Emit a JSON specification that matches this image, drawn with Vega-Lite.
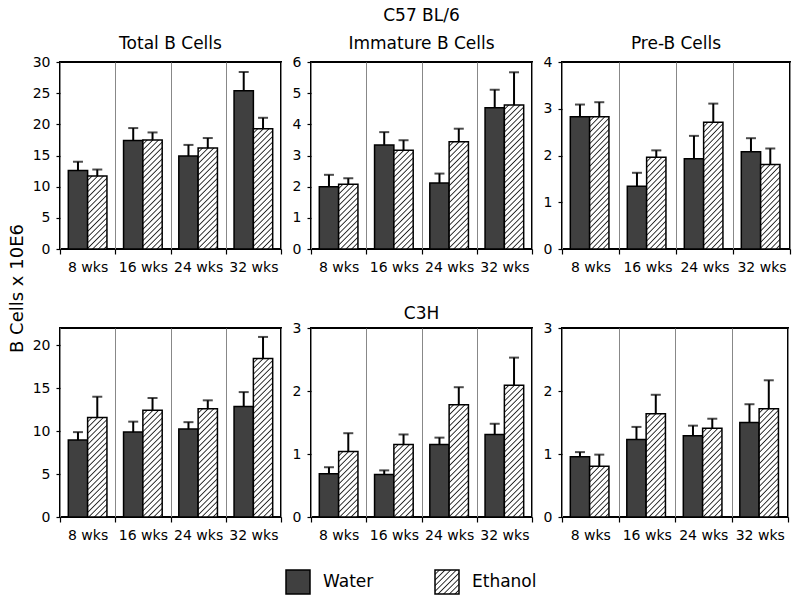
{
  "$schema": "https://vega.github.io/schema/vega-lite/v6.json",
  "autosize": {"type": "pad"},
  "padding": {"left": 7, "top": 6, "right": 5, "bottom": 5},
  "background": "white",
  "params": [
    {"name": "hatch", "expr": "[{offset:0,color:'#fff'},{offset:0.0172,color:'#fff'},{offset:0.0244,color:'#222'},{offset:0.0313,color:'#fff'},{offset:0.0484,color:'#fff'},{offset:0.0556,color:'#222'},{offset:0.0625,color:'#fff'},{offset:0.0797,color:'#fff'},{offset:0.0869,color:'#222'},{offset:0.0938,color:'#fff'},{offset:0.1109,color:'#fff'},{offset:0.1181,color:'#222'},{offset:0.125,color:'#fff'},{offset:0.1422,color:'#fff'},{offset:0.1494,color:'#222'},{offset:0.1563,color:'#fff'},{offset:0.1734,color:'#fff'},{offset:0.1806,color:'#222'},{offset:0.1875,color:'#fff'},{offset:0.2047,color:'#fff'},{offset:0.2119,color:'#222'},{offset:0.2188,color:'#fff'},{offset:0.2359,color:'#fff'},{offset:0.2431,color:'#222'},{offset:0.25,color:'#fff'},{offset:0.2672,color:'#fff'},{offset:0.2744,color:'#222'},{offset:0.2813,color:'#fff'},{offset:0.2984,color:'#fff'},{offset:0.3056,color:'#222'},{offset:0.3125,color:'#fff'},{offset:0.3297,color:'#fff'},{offset:0.3369,color:'#222'},{offset:0.3438,color:'#fff'},{offset:0.3609,color:'#fff'},{offset:0.3681,color:'#222'},{offset:0.375,color:'#fff'},{offset:0.3922,color:'#fff'},{offset:0.3994,color:'#222'},{offset:0.4063,color:'#fff'},{offset:0.4234,color:'#fff'},{offset:0.4306,color:'#222'},{offset:0.4375,color:'#fff'},{offset:0.4547,color:'#fff'},{offset:0.4619,color:'#222'},{offset:0.4688,color:'#fff'},{offset:0.4859,color:'#fff'},{offset:0.4931,color:'#222'},{offset:0.5,color:'#fff'},{offset:0.5172,color:'#fff'},{offset:0.5244,color:'#222'},{offset:0.5313,color:'#fff'},{offset:0.5484,color:'#fff'},{offset:0.5556,color:'#222'},{offset:0.5625,color:'#fff'},{offset:0.5797,color:'#fff'},{offset:0.5869,color:'#222'},{offset:0.5938,color:'#fff'},{offset:0.6109,color:'#fff'},{offset:0.6181,color:'#222'},{offset:0.625,color:'#fff'},{offset:0.6422,color:'#fff'},{offset:0.6494,color:'#222'},{offset:0.6563,color:'#fff'},{offset:0.6734,color:'#fff'},{offset:0.6806,color:'#222'},{offset:0.6875,color:'#fff'},{offset:0.7047,color:'#fff'},{offset:0.7119,color:'#222'},{offset:0.7188,color:'#fff'},{offset:0.7359,color:'#fff'},{offset:0.7431,color:'#222'},{offset:0.75,color:'#fff'},{offset:0.7672,color:'#fff'},{offset:0.7744,color:'#222'},{offset:0.7813,color:'#fff'},{offset:0.7984,color:'#fff'},{offset:0.8056,color:'#222'},{offset:0.8125,color:'#fff'},{offset:0.8297,color:'#fff'},{offset:0.8369,color:'#222'},{offset:0.8438,color:'#fff'},{offset:0.8609,color:'#fff'},{offset:0.8681,color:'#222'},{offset:0.875,color:'#fff'},{offset:0.8922,color:'#fff'},{offset:0.8994,color:'#222'},{offset:0.9063,color:'#fff'},{offset:0.9234,color:'#fff'},{offset:0.9306,color:'#222'},{offset:0.9375,color:'#fff'},{offset:0.9547,color:'#fff'},{offset:0.9619,color:'#222'},{offset:0.9688,color:'#fff'},{offset:0.9859,color:'#fff'},{offset:0.9931,color:'#222'},{offset:1,color:'#fff'}]"}
  ],
  "data": {
    "values": [
      {"panel": "total", "week": "8 wks", "treatment": "Water", "mean": 12.6, "upper": 14.0},
      {"panel": "total", "week": "8 wks", "treatment": "Ethanol", "mean": 11.7, "upper": 12.75},
      {"panel": "total", "week": "16 wks", "treatment": "Water", "mean": 17.4, "upper": 19.4},
      {"panel": "total", "week": "16 wks", "treatment": "Ethanol", "mean": 17.5, "upper": 18.7},
      {"panel": "total", "week": "24 wks", "treatment": "Water", "mean": 14.9, "upper": 16.7},
      {"panel": "total", "week": "24 wks", "treatment": "Ethanol", "mean": 16.2, "upper": 17.8},
      {"panel": "total", "week": "32 wks", "treatment": "Water", "mean": 25.4, "upper": 28.4},
      {"panel": "total", "week": "32 wks", "treatment": "Ethanol", "mean": 19.3, "upper": 21.05},
      {"panel": "immature", "week": "8 wks", "treatment": "Water", "mean": 2.0, "upper": 2.38},
      {"panel": "immature", "week": "8 wks", "treatment": "Ethanol", "mean": 2.08, "upper": 2.27},
      {"panel": "immature", "week": "16 wks", "treatment": "Water", "mean": 3.34, "upper": 3.75},
      {"panel": "immature", "week": "16 wks", "treatment": "Ethanol", "mean": 3.17, "upper": 3.49},
      {"panel": "immature", "week": "24 wks", "treatment": "Water", "mean": 2.12, "upper": 2.42},
      {"panel": "immature", "week": "24 wks", "treatment": "Ethanol", "mean": 3.44, "upper": 3.86},
      {"panel": "immature", "week": "32 wks", "treatment": "Water", "mean": 4.53, "upper": 5.11},
      {"panel": "immature", "week": "32 wks", "treatment": "Ethanol", "mean": 4.62, "upper": 5.67},
      {"panel": "preb", "week": "8 wks", "treatment": "Water", "mean": 2.83, "upper": 3.09},
      {"panel": "preb", "week": "8 wks", "treatment": "Ethanol", "mean": 2.83, "upper": 3.14},
      {"panel": "preb", "week": "16 wks", "treatment": "Water", "mean": 1.34, "upper": 1.63},
      {"panel": "preb", "week": "16 wks", "treatment": "Ethanol", "mean": 1.96, "upper": 2.11},
      {"panel": "preb", "week": "24 wks", "treatment": "Water", "mean": 1.93, "upper": 2.42},
      {"panel": "preb", "week": "24 wks", "treatment": "Ethanol", "mean": 2.71, "upper": 3.11},
      {"panel": "preb", "week": "32 wks", "treatment": "Water", "mean": 2.08, "upper": 2.37},
      {"panel": "preb", "week": "32 wks", "treatment": "Ethanol", "mean": 1.81, "upper": 2.15},
      {"panel": "c3h_total", "week": "8 wks", "treatment": "Water", "mean": 8.96, "upper": 9.88},
      {"panel": "c3h_total", "week": "8 wks", "treatment": "Ethanol", "mean": 11.58, "upper": 14.0},
      {"panel": "c3h_total", "week": "16 wks", "treatment": "Water", "mean": 9.88, "upper": 11.1},
      {"panel": "c3h_total", "week": "16 wks", "treatment": "Ethanol", "mean": 12.42, "upper": 13.85},
      {"panel": "c3h_total", "week": "24 wks", "treatment": "Water", "mean": 10.23, "upper": 11.04},
      {"panel": "c3h_total", "week": "24 wks", "treatment": "Ethanol", "mean": 12.6, "upper": 13.58},
      {"panel": "c3h_total", "week": "32 wks", "treatment": "Water", "mean": 12.85, "upper": 14.54},
      {"panel": "c3h_total", "week": "32 wks", "treatment": "Ethanol", "mean": 18.46, "upper": 20.96},
      {"panel": "c3h_immature", "week": "8 wks", "treatment": "Water", "mean": 0.685, "upper": 0.79},
      {"panel": "c3h_immature", "week": "8 wks", "treatment": "Ethanol", "mean": 1.04, "upper": 1.33},
      {"panel": "c3h_immature", "week": "16 wks", "treatment": "Water", "mean": 0.675, "upper": 0.74},
      {"panel": "c3h_immature", "week": "16 wks", "treatment": "Ethanol", "mean": 1.15, "upper": 1.31},
      {"panel": "c3h_immature", "week": "24 wks", "treatment": "Water", "mean": 1.15, "upper": 1.26},
      {"panel": "c3h_immature", "week": "24 wks", "treatment": "Ethanol", "mean": 1.78, "upper": 2.06},
      {"panel": "c3h_immature", "week": "32 wks", "treatment": "Water", "mean": 1.31, "upper": 1.48},
      {"panel": "c3h_immature", "week": "32 wks", "treatment": "Ethanol", "mean": 2.09, "upper": 2.53},
      {"panel": "c3h_preb", "week": "8 wks", "treatment": "Water", "mean": 0.957, "upper": 1.03},
      {"panel": "c3h_preb", "week": "8 wks", "treatment": "Ethanol", "mean": 0.805, "upper": 0.99},
      {"panel": "c3h_preb", "week": "16 wks", "treatment": "Water", "mean": 1.23, "upper": 1.43},
      {"panel": "c3h_preb", "week": "16 wks", "treatment": "Ethanol", "mean": 1.64, "upper": 1.94},
      {"panel": "c3h_preb", "week": "24 wks", "treatment": "Water", "mean": 1.29, "upper": 1.45},
      {"panel": "c3h_preb", "week": "24 wks", "treatment": "Ethanol", "mean": 1.41, "upper": 1.56},
      {"panel": "c3h_preb", "week": "32 wks", "treatment": "Water", "mean": 1.5, "upper": 1.79},
      {"panel": "c3h_preb", "week": "32 wks", "treatment": "Ethanol", "mean": 1.72, "upper": 2.17}
    ]
  },
  "columns": 3,
  "bounds": "flush",
  "align": "each",
  "spacing": {"row": 79, "column": 30},
  "concat": [
    {
      "width": 221, "height": 187,
      "title": {"text": "Total B Cells", "offset": 2},
      "transform": [{"filter": "datum.panel === 'total'"}],
      "encoding": {
        "x": {"field": "week", "type": "ordinal", "sort": ["8 wks", "16 wks", "24 wks", "32 wks"], "title": null, "scale": {"paddingInner": 0, "paddingOuter": 0}, "axis": {"tickBand": "extent", "grid": true, "gridColor": "#888888", "gridWidth": 1, "labelAngle": 0, "tickSize": 5, "labelPadding": 6.5}},
        "xOffset": {"field": "treatment", "sort": ["Water", "Ethanol"], "scale": {"paddingInner": 0, "paddingOuter": 0.43}}
      },
      "layer": [
        {
          "mark": {"type": "bar", "strokeWidth": 1.5, "fill": {"expr": "(datum.treatment || datum.value) === 'Water' ? '#404040' : {gradient:'linear',x1:0,y1:0,x2:(datum.mean ? 181*19.3/(372.5+pow(datum.mean*6.23,2)) : 3.77),y2:(datum.mean ? 181*datum.mean*6.23/(372.5+pow(datum.mean*6.23,2)) : 3.77),stops:hatch}"}},
          "encoding": {
            "y": {"field": "mean", "type": "quantitative", "title": "B Cells x 10E6", "scale": {"domain": [0, 30], "nice": false},
              "axis": {"grid": false, "values": [0, 5, 10, 15, 20, 25, 30], "format": "d", "tickSize": 4, "labelPadding": 6, "titleY": 226, "titlePadding": 6}},
            "stroke": {"field": "treatment", "type": "nominal", "scale": {"domain": ["Water", "Ethanol"], "range": ["black", "black"]},
              "legend": {"orient": "none", "legendX": 225, "legendY": 507, "direction": "horizontal", "title": null, "symbolType": "square", "symbolSize": 576, "symbolStrokeWidth": 1.5, "labelFontSize": 17, "labelColor": "black", "labelOffset": 12, "columnPadding": 58, "padding": 0}}
          }
        },
        {"mark": {"type": "rule", "color": "black", "strokeWidth": 2},
          "encoding": {"y": {"field": "mean", "type": "quantitative", "title": "B Cells x 10E6", "scale": {"domain": [0, 30], "nice": false},
              "axis": {"grid": false, "values": [0, 5, 10, 15, 20, 25, 30], "format": "d", "tickSize": 4, "labelPadding": 6, "titleY": 226, "titlePadding": 6}}, "y2": {"field": "upper"}}},
        {"mark": {"type": "tick", "color": "black", "size": 10, "thickness": 2},
          "encoding": {"y": {"field": "upper", "type": "quantitative", "title": "B Cells x 10E6", "scale": {"domain": [0, 30], "nice": false},
              "axis": {"grid": false, "values": [0, 5, 10, 15, 20, 25, 30], "format": "d", "tickSize": 4, "labelPadding": 6, "titleY": 226, "titlePadding": 6}}}}
      ]
    },
    {
      "width": 221, "height": 187,
      "title": {"text": ["C57 BL/6", "Immature B Cells"], "lineHeight": 28, "offset": 2},
      "transform": [{"filter": "datum.panel === 'immature'"}],
      "encoding": {
        "x": {"field": "week", "type": "ordinal", "sort": ["8 wks", "16 wks", "24 wks", "32 wks"], "title": null, "scale": {"paddingInner": 0, "paddingOuter": 0}, "axis": {"tickBand": "extent", "grid": true, "gridColor": "#888888", "gridWidth": 1, "labelAngle": 0, "tickSize": 5, "labelPadding": 6.5}},
        "xOffset": {"field": "treatment", "sort": ["Water", "Ethanol"], "scale": {"paddingInner": 0, "paddingOuter": 0.43}}
      },
      "layer": [
        {
          "mark": {"type": "bar", "stroke": "black", "strokeWidth": 1.5, "fill": {"expr": "datum.treatment === 'Water' ? '#404040' : {gradient:'linear',x1:0,y1:0,x2:181*19.3/(372.5+pow(datum.mean*31.17,2)),y2:181*datum.mean*31.17/(372.5+pow(datum.mean*31.17,2)),stops:hatch}"}},
          "encoding": {
            "y": {"field": "mean", "type": "quantitative", "title": null, "scale": {"domain": [0, 6], "nice": false},
              "axis": {"grid": false, "values": [0, 1, 2, 3, 4, 5, 6], "format": "d", "tickSize": 4, "labelPadding": 6}}
          }
        },
        {"mark": {"type": "rule", "color": "black", "strokeWidth": 2},
          "encoding": {"y": {"field": "mean", "type": "quantitative", "title": null, "scale": {"domain": [0, 6], "nice": false},
              "axis": {"grid": false, "values": [0, 1, 2, 3, 4, 5, 6], "format": "d", "tickSize": 4, "labelPadding": 6}}, "y2": {"field": "upper"}}},
        {"mark": {"type": "tick", "color": "black", "size": 10, "thickness": 2},
          "encoding": {"y": {"field": "upper", "type": "quantitative", "title": null, "scale": {"domain": [0, 6], "nice": false},
              "axis": {"grid": false, "values": [0, 1, 2, 3, 4, 5, 6], "format": "d", "tickSize": 4, "labelPadding": 6}}}}
      ]
    },
    {
      "width": 228, "height": 187,
      "title": {"text": "Pre-B Cells", "offset": 2},
      "transform": [{"filter": "datum.panel === 'preb'"}],
      "encoding": {
        "x": {"field": "week", "type": "ordinal", "sort": ["8 wks", "16 wks", "24 wks", "32 wks"], "title": null, "scale": {"paddingInner": 0, "paddingOuter": 0}, "axis": {"tickBand": "extent", "grid": true, "gridColor": "#888888", "gridWidth": 1, "labelAngle": 0, "tickSize": 5, "labelPadding": 6.5}},
        "xOffset": {"field": "treatment", "sort": ["Water", "Ethanol"], "scale": {"paddingInner": 0, "paddingOuter": 0.43}}
      },
      "layer": [
        {
          "mark": {"type": "bar", "stroke": "black", "strokeWidth": 1.5, "fill": {"expr": "datum.treatment === 'Water' ? '#404040' : {gradient:'linear',x1:0,y1:0,x2:181*19.9/(396+pow(datum.mean*46.75,2)),y2:181*datum.mean*46.75/(396+pow(datum.mean*46.75,2)),stops:hatch}"}},
          "encoding": {
            "y": {"field": "mean", "type": "quantitative", "title": null, "scale": {"domain": [0, 4], "nice": false},
              "axis": {"grid": false, "values": [0, 1, 2, 3, 4], "format": "d", "tickSize": 4, "labelPadding": 6}}
          }
        },
        {"mark": {"type": "rule", "color": "black", "strokeWidth": 2},
          "encoding": {"y": {"field": "mean", "type": "quantitative", "title": null, "scale": {"domain": [0, 4], "nice": false},
              "axis": {"grid": false, "values": [0, 1, 2, 3, 4], "format": "d", "tickSize": 4, "labelPadding": 6}}, "y2": {"field": "upper"}}},
        {"mark": {"type": "tick", "color": "black", "size": 10, "thickness": 2},
          "encoding": {"y": {"field": "upper", "type": "quantitative", "title": null, "scale": {"domain": [0, 4], "nice": false},
              "axis": {"grid": false, "values": [0, 1, 2, 3, 4], "format": "d", "tickSize": 4, "labelPadding": 6}}}}
      ]
    },
    {
      "width": 221, "height": 189,
      "transform": [{"filter": "datum.panel === 'c3h_total'"}],
      "encoding": {
        "x": {"field": "week", "type": "ordinal", "sort": ["8 wks", "16 wks", "24 wks", "32 wks"], "title": null, "scale": {"paddingInner": 0, "paddingOuter": 0}, "axis": {"tickBand": "extent", "grid": true, "gridColor": "#888888", "gridWidth": 1, "labelAngle": 0, "tickSize": 5, "labelPadding": 6.5}},
        "xOffset": {"field": "treatment", "sort": ["Water", "Ethanol"], "scale": {"paddingInner": 0, "paddingOuter": 0.43}}
      },
      "layer": [
        {
          "mark": {"type": "bar", "stroke": "black", "strokeWidth": 1.5, "fill": {"expr": "datum.treatment === 'Water' ? '#404040' : {gradient:'linear',x1:0,y1:0,x2:181*19.3/(372.5+pow(datum.mean*8.59,2)),y2:181*datum.mean*8.59/(372.5+pow(datum.mean*8.59,2)),stops:hatch}"}},
          "encoding": {
            "y": {"field": "mean", "type": "quantitative", "title": null, "scale": {"domain": [0, 22], "nice": false},
              "axis": {"grid": false, "values": [0, 5, 10, 15, 20], "format": "d", "tickSize": 4, "labelPadding": 6}}
          }
        },
        {"mark": {"type": "rule", "color": "black", "strokeWidth": 2},
          "encoding": {"y": {"field": "mean", "type": "quantitative", "title": null, "scale": {"domain": [0, 22], "nice": false},
              "axis": {"grid": false, "values": [0, 5, 10, 15, 20], "format": "d", "tickSize": 4, "labelPadding": 6}}, "y2": {"field": "upper"}}},
        {"mark": {"type": "tick", "color": "black", "size": 10, "thickness": 2},
          "encoding": {"y": {"field": "upper", "type": "quantitative", "title": null, "scale": {"domain": [0, 22], "nice": false},
              "axis": {"grid": false, "values": [0, 5, 10, 15, 20], "format": "d", "tickSize": 4, "labelPadding": 6}}}}
      ]
    },
    {
      "width": 221, "height": 189,
      "title": {"text": "C3H", "offset": -2},
      "transform": [{"filter": "datum.panel === 'c3h_immature'"}],
      "encoding": {
        "x": {"field": "week", "type": "ordinal", "sort": ["8 wks", "16 wks", "24 wks", "32 wks"], "title": null, "scale": {"paddingInner": 0, "paddingOuter": 0}, "axis": {"tickBand": "extent", "grid": true, "gridColor": "#888888", "gridWidth": 1, "labelAngle": 0, "tickSize": 5, "labelPadding": 6.5}},
        "xOffset": {"field": "treatment", "sort": ["Water", "Ethanol"], "scale": {"paddingInner": 0, "paddingOuter": 0.43}}
      },
      "layer": [
        {
          "mark": {"type": "bar", "stroke": "black", "strokeWidth": 1.5, "fill": {"expr": "datum.treatment === 'Water' ? '#404040' : {gradient:'linear',x1:0,y1:0,x2:181*19.3/(372.5+pow(datum.mean*63,2)),y2:181*datum.mean*63/(372.5+pow(datum.mean*63,2)),stops:hatch}"}},
          "encoding": {
            "y": {"field": "mean", "type": "quantitative", "title": null, "scale": {"domain": [0, 3], "nice": false},
              "axis": {"grid": false, "values": [0, 1, 2, 3], "format": "d", "tickSize": 4, "labelPadding": 6}}
          }
        },
        {"mark": {"type": "rule", "color": "black", "strokeWidth": 2},
          "encoding": {"y": {"field": "mean", "type": "quantitative", "title": null, "scale": {"domain": [0, 3], "nice": false},
              "axis": {"grid": false, "values": [0, 1, 2, 3], "format": "d", "tickSize": 4, "labelPadding": 6}}, "y2": {"field": "upper"}}},
        {"mark": {"type": "tick", "color": "black", "size": 10, "thickness": 2},
          "encoding": {"y": {"field": "upper", "type": "quantitative", "title": null, "scale": {"domain": [0, 3], "nice": false},
              "axis": {"grid": false, "values": [0, 1, 2, 3], "format": "d", "tickSize": 4, "labelPadding": 6}}}}
      ]
    },
    {
      "width": 226, "height": 189,
      "transform": [{"filter": "datum.panel === 'c3h_preb'"}],
      "encoding": {
        "x": {"field": "week", "type": "ordinal", "sort": ["8 wks", "16 wks", "24 wks", "32 wks"], "title": null, "scale": {"paddingInner": 0, "paddingOuter": 0}, "axis": {"tickBand": "extent", "grid": true, "gridColor": "#888888", "gridWidth": 1, "labelAngle": 0, "tickSize": 5, "labelPadding": 6.5}},
        "xOffset": {"field": "treatment", "sort": ["Water", "Ethanol"], "scale": {"paddingInner": 0, "paddingOuter": 0.43}}
      },
      "layer": [
        {
          "mark": {"type": "bar", "stroke": "black", "strokeWidth": 1.5, "fill": {"expr": "datum.treatment === 'Water' ? '#404040' : {gradient:'linear',x1:0,y1:0,x2:181*19.7/(388+pow(datum.mean*63,2)),y2:181*datum.mean*63/(388+pow(datum.mean*63,2)),stops:hatch}"}},
          "encoding": {
            "y": {"field": "mean", "type": "quantitative", "title": null, "scale": {"domain": [0, 3], "nice": false},
              "axis": {"grid": false, "values": [0, 1, 2, 3], "format": "d", "tickSize": 4, "labelPadding": 6}}
          }
        },
        {"mark": {"type": "rule", "color": "black", "strokeWidth": 2},
          "encoding": {"y": {"field": "mean", "type": "quantitative", "title": null, "scale": {"domain": [0, 3], "nice": false},
              "axis": {"grid": false, "values": [0, 1, 2, 3], "format": "d", "tickSize": 4, "labelPadding": 6}}, "y2": {"field": "upper"}}},
        {"mark": {"type": "tick", "color": "black", "size": 10, "thickness": 2},
          "encoding": {"y": {"field": "upper", "type": "quantitative", "title": null, "scale": {"domain": [0, 3], "nice": false},
              "axis": {"grid": false, "values": [0, 1, 2, 3], "format": "d", "tickSize": 4, "labelPadding": 6}}}}
      ]
    }
  ],
  "config": {
    "font": "DejaVu Sans",
    "view": {"stroke": "black", "strokeWidth": 2},
    "axis": {"labelFont": "DejaVu Sans", "labelFontSize": 14, "labelColor": "black", "tickColor": "black", "tickWidth": 1.2, "domain": false, "titleFont": "DejaVu Sans", "titleFontSize": 18, "titleFontWeight": "normal", "titleColor": "black"},
    "title": {"font": "DejaVu Sans", "fontSize": 17, "fontWeight": "normal", "color": "black", "offset": 10},
    "legend": {"labelFont": "DejaVu Sans"}
  }
}
